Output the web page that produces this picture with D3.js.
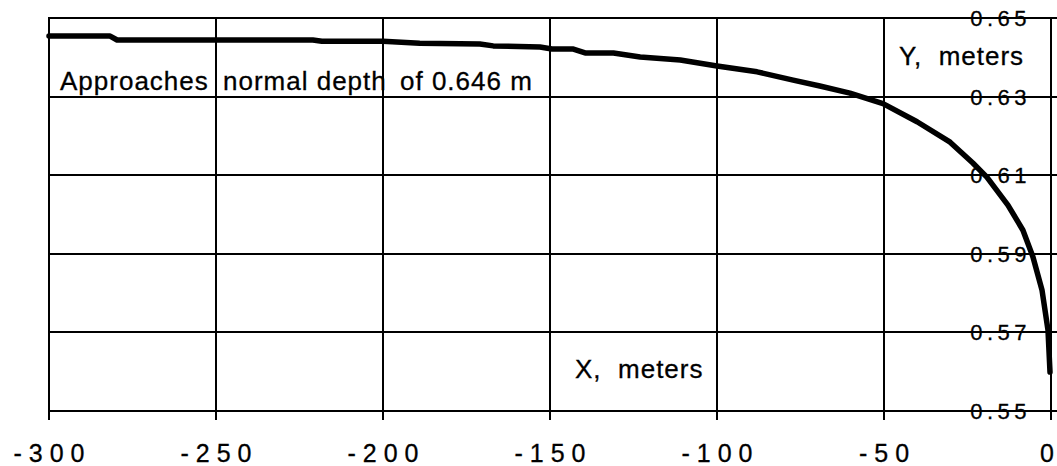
<!DOCTYPE html>
<html>
<head>
<meta charset="utf-8">
<script src="https://cdn.jsdelivr.net/npm/d3@7"></script>
<style>
  html, body { margin: 0; padding: 0; background: #fff; }
  svg { display: block; }
  text { font-family: "Liberation Sans", Arial, Helvetica, sans-serif; fill: #000; stroke: #000; stroke-width: 0.3px; }
</style>
</head>
<body>
<svg id="chart" width="1057" height="466"></svg>
<script>
// ---- data ----
const xTicks = [-300, -250, -200, -150, -100, -50, 0];
const yTicks = [0.55, 0.57, 0.59, 0.61, 0.63, 0.65];
const yTickLabels = ["0.55", "0.57", "0.59", "0.61", "0.63", "0.65"];
const xValues = [-300, -281.7, -279.6, -221, -218.3, -200, -189, -171, -167, -153, -149.4, -143, -139.5, -131, -123, -111, -100, -88, -77.2, -69.2, -60.2, -50.3, -40.1, -30.2, -23.4, -19.2, -12.9, -8.4, -5.4, -2.7, -0.9, -0.3];
const yValues = [0.6454, 0.6454, 0.6444, 0.6444, 0.6441, 0.6441, 0.6436, 0.6434, 0.6429, 0.6426, 0.6421, 0.6421, 0.6411, 0.6411, 0.6401, 0.6393, 0.6378, 0.6363, 0.6342, 0.6327, 0.6309, 0.6282, 0.6236, 0.6184, 0.6131, 0.6095, 0.6024, 0.5960, 0.5892, 0.5808, 0.5706, 0.5599];
const annotation = ["Approaches", "normal depth", "of 0.646 m"];
const xTitle = "X,  meters";
const yTitle = "Y,  meters";

// ---- layout ----
const svg = d3.select("#chart");
const x = d3.scaleLinear().domain([-300, 0]).range([49, 1051]);
const y = d3.scaleLinear().domain([0.55, 0.65]).range([411, 18]);

// vertical grid lines + bottom ticks
svg.append("g").selectAll("line").data(xTicks).join("line")
  .attr("x1", d => Math.round(x(d))).attr("x2", d => Math.round(x(d)))
  .attr("y1", y(0.65) - 1).attr("y2", y(0.55) + 9)
  .attr("stroke", "#000").attr("stroke-width", 2);

// horizontal grid lines (extend past right edge as ticks)
svg.append("g").selectAll("line").data(yTicks).join("line")
  .attr("x1", x(-300) - 1).attr("x2", 1057)
  .attr("y1", d => Math.round(y(d))).attr("y2", d => Math.round(y(d)))
  .attr("stroke", "#000").attr("stroke-width", 2);

// y tick labels (inside plot, right side, centred on line)
svg.append("g").selectAll("text").data(yTicks).join("text")
  .attr("x", 1031).attr("y", d => y(d) + 8)
  .attr("text-anchor", "end")
  .style("font-size", "22px").style("letter-spacing", "4.5px")
  .text((d, i) => yTickLabels[i]);

// x tick labels
svg.append("g").selectAll("text").data(xTicks).join("text")
  .attr("x", d => d === 0 ? 1054 : x(d) + 3.5)
  .attr("y", 462)
  .attr("text-anchor", d => d === 0 ? "end" : "middle")
  .style("font-size", "25px").style("letter-spacing", d => d === 0 ? "0px" : "7px")
  .text(d => String(d));

// curve
const pts = xValues.map((v, i) => [v, yValues[i]]);
svg.append("path")
  .datum(pts)
  .attr("fill", "none").attr("stroke", "#000").attr("stroke-width", 5.5)
  .attr("stroke-linejoin", "round").attr("stroke-linecap", "round")
  .attr("d", d3.line().x(d => x(d[0])).y(d => y(d[1])).curve(d3.curveLinear));

// annotation text
const ann = svg.append("text").attr("y", 90)
  .style("font-size", "26px").style("letter-spacing", "1px");
const annX = [60, 223, 400];
annotation.forEach((t, i) => ann.append("tspan").attr("x", annX[i]).text(t));

// axis titles
svg.append("text").attr("x", 899).attr("y", 65)
  .style("font-size", "26px").style("letter-spacing", "1px").style("white-space", "pre")
  .text(yTitle);
svg.append("text").attr("x", 575).attr("y", 378)
  .style("font-size", "26px").style("letter-spacing", "1px").style("white-space", "pre")
  .text(xTitle);
</script>
</body>
</html>
